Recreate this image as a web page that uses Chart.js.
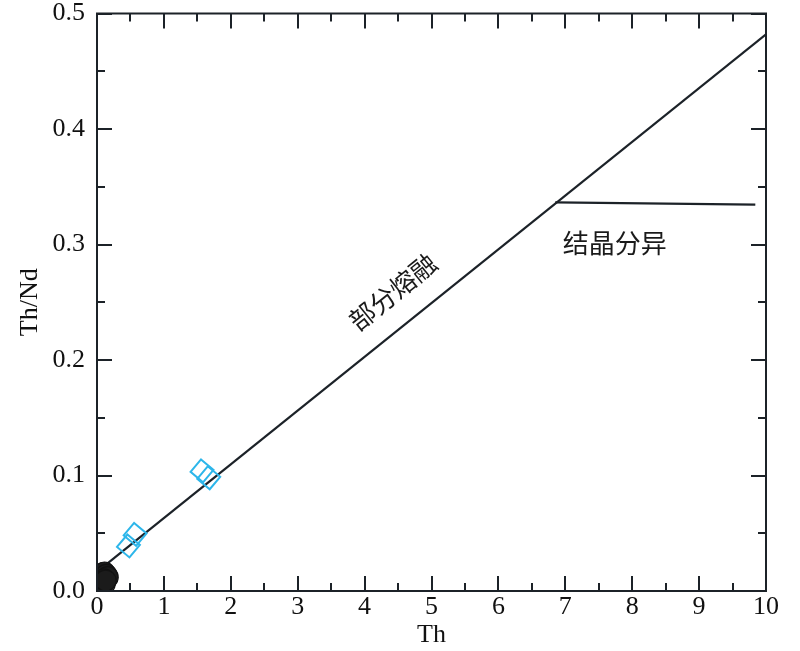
<!DOCTYPE html>
<html>
<head>
<meta charset="utf-8">
<script src="https://cdn.jsdelivr.net/npm/chart.js@4.4.1/dist/chart.umd.min.js"></script>
<style>
html,body{margin:0;padding:0;background:#fff;}
#wrap{width:800px;height:651px;position:relative;}
</style>
</head>
<body>
<div id="wrap"><canvas id="c" width="800" height="651"></canvas></div>
<script>
// ---- data ----
const xTicks = [0,1,2,3,4,5,6,7,8,9,10];
const yTicks = [0.0,0.1,0.2,0.3,0.4,0.5];
const yTickLabels = ['0.0','0.1','0.2','0.3','0.4','0.5'];

const meltLineX = [0.05, 10];
const meltLineY = [0.019, 0.482];
const crystLineX = [6.85, 9.84];
const crystLineY = [0.3365, 0.3345];

const diamondX = [0.47, 0.57, 1.57, 1.67];
const diamondY = [0.039, 0.049, 0.104, 0.098];

const filledCircleX = [0.05, 0.08, 0.11, 0.14, 0.16, 0.10, 0.06, 0.13];
const filledCircleY = [0.012, 0.015, 0.016, 0.014, 0.012, 0.010, 0.008, 0.009];
const openCircleX = [0.04, 0.08, 0.12, 0.06];
const openCircleY = [0.003, 0.004, 0.006, 0.001];

const labelMelt = '部分熔融';
const labelMeltPos = [4.42, 0.259];
const labelCryst = '结晶分异';
const labelCrystPos = [7.74, 0.301];

const xTitle = 'Th';
const yTitle = 'Th/Nd';

const toPts = (xs, ys) => xs.map((x, i) => ({x: x, y: ys[i]}));

const lineColor = '#1c2228';
const diamondColor = '#2db6ea';

const boxPlugin = {
  id: 'boxPlugin',
  afterDatasetsDraw(chart) {
    const ctx = chart.ctx;
    const xs = chart.scales.x, ys = chart.scales.y;
    const L = xs.left, R = xs.right, T = ys.top, B = ys.bottom;
    ctx.save();
    ctx.strokeStyle = lineColor;
    ctx.lineWidth = 2;
    ctx.strokeRect(L, T, R - L, B - T);
    ctx.beginPath();
    for (let v = 0; v <= 10.001; v += 0.5) {
      const p = Math.round(xs.getPixelForValue(v));
      const len = (Math.abs(v - Math.round(v)) < 1e-6) ? 15 : 8;
      ctx.moveTo(p, B); ctx.lineTo(p, B - len);
      ctx.moveTo(p, T); ctx.lineTo(p, T + len);
    }
    for (let v = 0; v <= 0.5001; v += 0.05) {
      const p = Math.round(ys.getPixelForValue(v));
      const major = Math.abs(v * 10 - Math.round(v * 10)) < 1e-6;
      const len = major ? 15 : 8;
      ctx.moveTo(L, p); ctx.lineTo(L + len, p);
      ctx.moveTo(R, p); ctx.lineTo(R - len, p);
    }
    ctx.stroke();

    ctx.fillStyle = '#1a1a1a';
    ctx.font = '26px "Noto Sans CJK SC"';
    ctx.textAlign = 'center';
    ctx.textBaseline = 'middle';
    ctx.save();
    ctx.translate(xs.getPixelForValue(labelMeltPos[0]), ys.getPixelForValue(labelMeltPos[1]));
    ctx.rotate(-39 * Math.PI / 180);
    ctx.fillText(labelMelt, 0, 0);
    ctx.restore();
    ctx.fillText(labelCryst, xs.getPixelForValue(labelCrystPos[0]), ys.getPixelForValue(labelCrystPos[1]));
    ctx.restore();
  }
};

new Chart(document.getElementById('c'), {
  type: 'scatter',
  data: {
    datasets: [
      {
        label: 'melt', data: toPts(meltLineX, meltLineY), showLine: true,
        borderColor: lineColor, borderWidth: 2.2, pointRadius: 0, order: 5
      },
      {
        label: 'cryst', data: toPts(crystLineX, crystLineY), showLine: true,
        borderColor: lineColor, borderWidth: 2.2, pointRadius: 0, order: 5
      },
      {
        label: 'diamonds', data: toPts(diamondX, diamondY),
        pointStyle: 'rect', rotation: 40, pointRadius: 11.5,
        borderColor: diamondColor, backgroundColor: 'rgba(0,0,0,0)', borderWidth: 2, order: 2
      },
      {
        label: 'open', data: toPts(openCircleX, openCircleY),
        pointStyle: 'circle', pointRadius: 10,
        borderColor: '#111', backgroundColor: 'rgba(255,255,255,0)', borderWidth: 1.5, order: 3
      },
      {
        label: 'filled', data: toPts(filledCircleX, filledCircleY),
        pointStyle: 'circle', pointRadius: 10.5,
        borderColor: '#111', backgroundColor: '#1b1b1b', borderWidth: 1.2, order: 1
      }
    ]
  },
  options: {
    responsive: false,
    animation: false,
    layout: { padding: { top: 10, right: 34, left: 0, bottom: 0 } },
    plugins: { legend: { display: false }, tooltip: { enabled: false } },
    scales: {
      x: {
        type: 'linear', min: 0, max: 10,
        afterBuildTicks: (s) => { s.ticks = xTicks.map(v => ({value: v})); },
        afterFit: (s) => { s.height = 60; s.paddingLeft = 0; s.paddingRight = 0; },
        grid: { display: false, tickLength: 0 }, border: { display: false },
        ticks: { color: '#111', font: { family: 'Liberation Serif', size: 26 }, padding: 1, maxRotation: 0 },
        title: { display: true, text: xTitle, color: '#111', font: { family: 'Liberation Serif', size: 26 }, padding: { top: 0, bottom: 0 } }
      },
      y: {
        type: 'linear', min: 0, max: 0.5,
        afterBuildTicks: (s) => { s.ticks = yTicks.map(v => ({value: v})); },
        afterFit: (s) => { s.width = 97; s.paddingTop = 0; s.paddingBottom = 0; },
        grid: { display: false, tickLength: 0 }, border: { display: false },
        ticks: { color: '#111', font: { family: 'Liberation Serif', size: 26 }, padding: 12,
                 callback: (v, i) => yTickLabels[i] },
        title: { display: true, text: yTitle, color: '#111', font: { family: 'Liberation Serif', size: 26 }, padding: { top: 15, bottom: 0 } }
      }
    }
  },
  plugins: [boxPlugin]
});
</script>
</body>
</html>
